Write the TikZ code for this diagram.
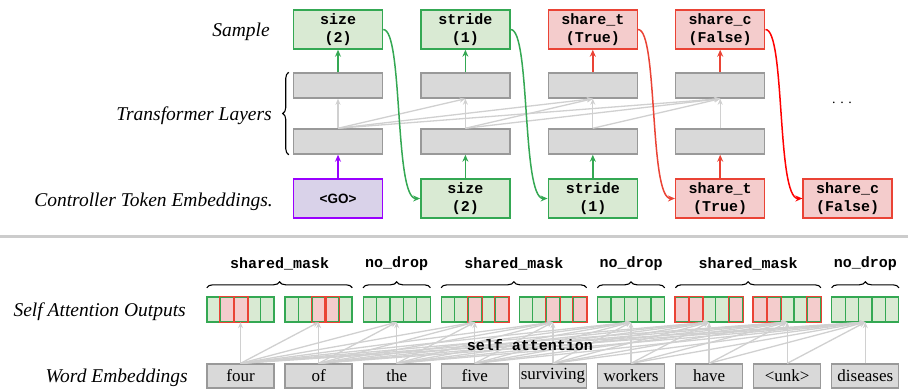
\documentclass[tikz,border=0pt]{standalone}
\usepackage{fontspec}
\setmainfont{Liberation Serif}
\setmonofont{Liberation Mono}
\newfontfamily\arialf{Liberation Sans}
\usetikzlibrary{arrows.meta,decorations.pathreplacing,calc}
\definecolor{gG}{HTML}{34A853}
\definecolor{gGf}{HTML}{D9EAD3}
\definecolor{rR}{HTML}{EA4335}
\definecolor{rRf}{HTML}{F4CCCC}
\definecolor{rX}{HTML}{FF0000}
\definecolor{pP}{HTML}{9900FF}
\definecolor{pPf}{HTML}{D9D2E9}
\definecolor{grayB}{HTML}{999999}
\definecolor{grayF}{HTML}{D9D9D9}
\definecolor{grayA}{HTML}{D0D0D0}
\definecolor{sepC}{HTML}{CCCCCC}
\tikzset{
  tok/.style={minimum width=89pt, minimum height=39pt, inner sep=0pt, line width=1.5pt,
    font=\ttfamily\bfseries\fontsize{15}{18}\selectfont, align=center},
  tokg/.style={tok, draw=gG, fill=gGf},
  tokr/.style={tok, draw=rR, fill=rRf},
  tokp/.style={tok, draw=pP, fill=pPf, font=\arialf\bfseries\fontsize{13.5}{16}\selectfont},
  layer/.style={minimum width=89pt, minimum height=25pt, inner sep=0pt, line width=1.5pt, draw=grayB, fill=grayF},
  garrow/.style={draw=grayA, line width=1.3pt, -{Stealth[length=6pt,width=5pt]}},
  carrow/.style={line width=1.5pt, -{Stealth[length=7pt,width=6pt]}},
  lab/.style={font=\itshape\fontsize{19.5}{23}\selectfont, anchor=base east, inner sep=0pt},
  word/.style={minimum width=67pt, minimum height=24pt, inner sep=0pt, draw=grayB, fill=grayF, line width=1.3pt,
    font=\fontsize{17}{20}\selectfont},
  cellG/.style={minimum width=13.4pt, minimum height=25pt, inner sep=0pt, line width=1.3pt, draw=gG, fill=gGf},
  cellR/.style={minimum width=13.4pt, minimum height=25pt, inner sep=0pt, line width=1.3pt, draw=gG, fill=rRf},
  cellxG/.style={draw=none},
  cellxR/.style={draw=rR, line width=1.3pt},
  grp/.style={minimum width=67pt, minimum height=25pt, inner sep=0pt},
  bracestyle/.style={decorate, decoration={brace, amplitude=6pt}, line width=1.1pt},
  mlab/.style={font=\ttfamily\bfseries\fontsize{15}{18}\selectfont, inner sep=0pt},
}
\begin{document}
\begin{tikzpicture}[x=1pt,y=-1pt]
\useasboundingbox (0,0) rectangle (908,389);
% ---------- top part ----------
\foreach \i/\cx in {1/338,2/465.4,3/592.8,4/720.2}{
  \node[layer] (L\i) at (\cx,141.5) {};
  \node[layer] (U\i) at (\cx,85.5) {};
}
\node[tokg] (S1) at (338,29.5) {size\\(2)};
\node[tokg] (S2) at (465.4,29.5) {stride\\(1)};
\node[tokr] (S3) at (592.8,29.5) {share\_t\\(True)};
\node[tokr] (S4) at (720.2,29.5) {share\_c\\(False)};
\node[tokp] (I1) at (338,198.5) {<GO>};
\node[tokg] (I2) at (465.4,198.5) {size\\(2)};
\node[tokg] (I3) at (592.8,198.5) {stride\\(1)};
\node[tokr] (I4) at (720.2,198.5) {share\_t\\(True)};
\node[tokr] (I5) at (847.6,198.5) {share\_c\\(False)};

\foreach \i in {1,...,4}{
  \foreach \j in {\i,...,4}{
    \draw[garrow] (L\i.north) -- (U\j.south);
  }
}
\draw[carrow, gG] (U1.north) -- (S1.south);
\draw[carrow, gG] (U2.north) -- (S2.south);
\draw[carrow, rR] (U3.north) -- (S3.south);
\draw[carrow, rR] (U4.north) -- (S4.south);
\draw[carrow, pP] (I1.north) -- (L1.south);
\draw[carrow, gG] (I2.north) -- (L2.south);
\draw[carrow, gG] (I3.north) -- (L3.south);
\draw[carrow, rR] (I4.north) -- (L4.south);

\draw[carrow, gG] (S1.east) .. controls +(20,0) and +(-26,0) .. (I2.west);
\draw[carrow, gG] (S2.east) .. controls +(20,0) and +(-26,0) .. (I3.west);
\draw[carrow, rR] (S3.east) .. controls +(20,0) and +(-26,0) .. (I4.west);
\draw[carrow, rX] (S4.east) .. controls +(20,0) and +(-26,0) .. (I5.west);

\node[anchor=base, inner sep=0pt, font=\fontsize{14}{16}\selectfont] (dots) at (842,103.5) {.\,\,.\,\,.};

\node[lab] (tS) at (270,36) {Sample};
\node[lab] (tT) at (272,120) {Transformer Layers};
\node[lab] (tC) at (273,206.5) {Controller Token Embeddings.};
\draw[bracestyle] ([xshift=-4pt]L1.south west) -- ([xshift=-4pt]U1.north west);

% ---------- separator ----------
\coordinate (sepL) at (0,236.5);
\coordinate (sepR) at (908,236.5);
\draw[sepC, line width=3.5pt] (sepL) -- (sepR);

% ---------- bottom part ----------
\foreach \k/\w/\a/\b/\c/\d/\e in {1/four/G/R/R/G/G, 2/of/G/G/R/R/G, 3/the/G/G/G/G/G,
   4/five/G/G/R/G/R, 5/surviving/G/G/R/G/R, 6/workers/G/G/G/G/G,
   7/have/R/R/G/G/R, 8/<unk>/R/R/G/G/R, 9/diseases/G/G/G/G/G}{
  \pgfmathsetmacro{\gx}{240.5+78.1*(\k-1)}
  \node[grp] (g\k) at (\gx,309.5) {};
  \node[word] (w\k) at (\gx,376) {\w};
  \foreach \j/\t in {1/\a,2/\b,3/\c,4/\d,5/\e}{
    \node[cell\t] (c\k-\j) at ({\gx-33.5+13.4*(\j-0.5)},309.5) {};
  }
  \foreach \j/\t in {1/\a,2/\b,3/\c,4/\d,5/\e}{
    \draw[cellx\t] (c\k-\j.south west) rectangle (c\k-\j.north east);
  }
}
\foreach \i in {1,...,9}{
  \foreach \j in {\i,...,9}{
    \draw[garrow] (w\i.north) -- (g\j.south);
  }
}
\node[mlab] (sa) at (530,345) {self attention};

\draw[bracestyle] ([yshift=9pt]g1.north west) -- ([yshift=9pt]g2.north east)
  node[midway, yshift=24pt, mlab] (b1) {shared\_mask};
\draw[bracestyle] ([yshift=9pt]g3.north west) -- ([yshift=9pt]g3.north east)
  node[midway, yshift=24pt, mlab] (b2) {no\_drop};
\draw[bracestyle] ([yshift=9pt]g4.north west) -- ([yshift=9pt]g5.north east)
  node[midway, yshift=24pt, mlab] (b3) {shared\_mask};
\draw[bracestyle] ([yshift=9pt]g6.north west) -- ([yshift=9pt]g6.north east)
  node[midway, yshift=24pt, mlab] (b4) {no\_drop};
\draw[bracestyle] ([yshift=9pt]g7.north west) -- ([yshift=9pt]g8.north east)
  node[midway, yshift=24pt, mlab] (b5) {shared\_mask};
\draw[bracestyle] ([yshift=9pt]g9.north west) -- ([yshift=9pt]g9.north east)
  node[midway, yshift=24pt, mlab] (b6) {no\_drop};

\node[lab] (tA) at (186,316) {Self Attention Outputs};
\node[lab] (tW) at (188,382) {Word Embeddings};
\end{tikzpicture}
\end{document}
